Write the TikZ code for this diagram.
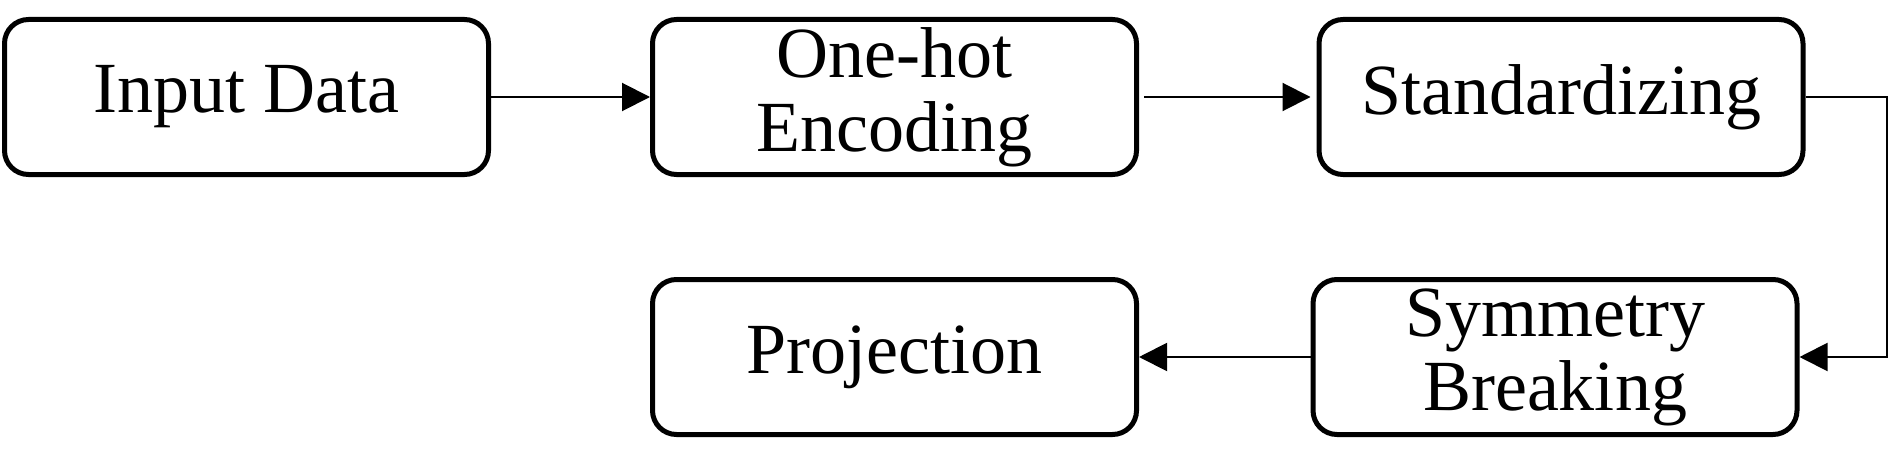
\documentclass[tikz,border=0pt]{standalone}
\usepackage{fontspec}
\setmainfont{Liberation Serif}
\usetikzlibrary{arrows.meta}

\begin{document}
\begin{tikzpicture}[x=0.5pt, y=0.5pt,
    stage/.style={draw, line width=2.5pt, rounded corners=12pt, align=center,
      minimum width=242pt, minimum height=77.5pt, inner sep=0pt,
      font=\fontsize{36}{37}\selectfont},
    flow/.style={line width=1pt, -{Triangle[length=14pt, width=14pt]}}]
  \useasboundingbox (0,0) rectangle (1888,472);
  \node[stage] (input) at (246.5,375) {Input Data};
  \node[stage] (onehot) at (894.5,375) {One-hot\\Encoding};
  \node[stage] (standard) at (1561,375) {Standardizing};
  \node[stage] (symmetry) at (1555,115) {Symmetry\\Breaking};
  \node[stage] (project) at (894.5,115) {Projection};
  \draw[flow] (input.east) -- (onehot.west);
  \draw[flow, shorten <=2.5pt, shorten >=3pt] (onehot.east) -- (standard.west);
  \draw[flow] (standard.east) -- ++(81,0) |- (symmetry.east);
  \draw[flow] (symmetry.west) -- (project.east);
\end{tikzpicture}
\end{document}
